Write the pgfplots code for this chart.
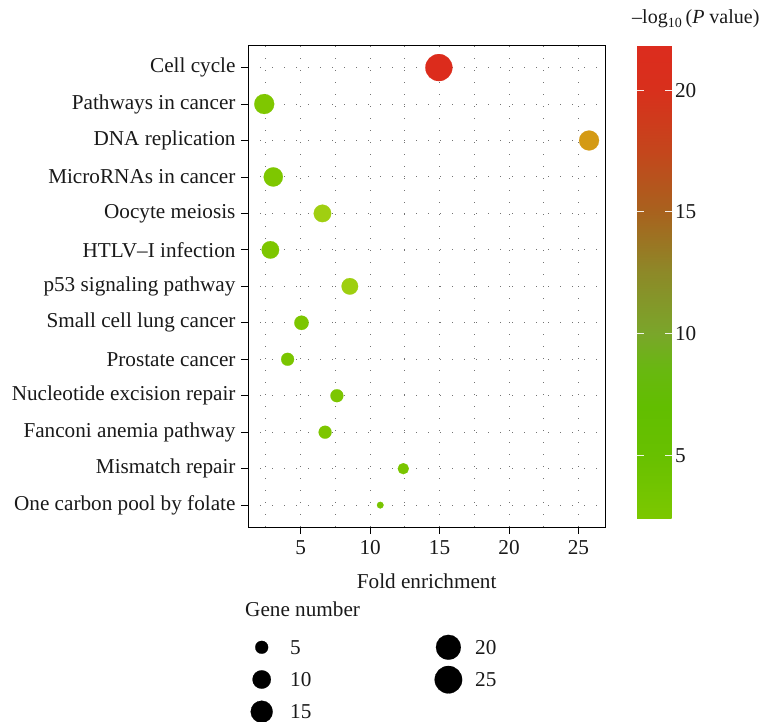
\documentclass[border=0pt]{standalone}
\usepackage{pgfplots}
\pgfplotsset{compat=1.18}
\usepackage{pgfplotstable}
\usepackage{fontspec}
\setmainfont{Liberation Serif}
\newcommand\fs{\fontsize{21.2}{25.4}\selectfont}

% y = category position (13 = top), x = fold enrichment, gene = gene number, p = -log10(P value)
\pgfplotstableread{
y  x      gene  p
13 14.95  24    21.86
12 2.38   12    5.5
11 25.76  12    14.5
10 3.03   11    5.0
9  6.57   9     9.5
8  2.82   9     4.5
7  8.54   8     9.0
6  5.06   6     4.0
5  4.06   5     3.5
4  7.61   5     4.0
3  6.76   5     4.5
2  12.39  4     3.5
1  10.73  3     2.38
}\datatable

\pgfplotstableread{
x     y     gene
261.7 74.7  5
261.7 42.5  10
261.7 10.3  15
}\legA
\pgfplotstableread{
x     y     gene
448.4 74.7  20
448.4 42.3  25
}\legB

\pgfplotsset{
  colormap={bar}{rgb255(238)=(124,200,0) rgb255(500)=(104,192,0) rgb255(700)=(98,190,0)
    rgb255(850)=(104,184,16) rgb255(1000)=(122,166,42) rgb255(1250)=(141,137,40)
    rgb255(1500)=(168,98,30) rgb255(1750)=(196,70,28) rgb255(2000)=(216,48,28) rgb255(2186)=(220,44,30)},
  colormap={pts}{rgb255(238)=(120,196,0) rgb255(600)=(128,200,0) rgb255(900)=(158,207,16)
    rgb255(1000)=(162,208,18) rgb255(1450)=(212,154,20) rgb255(2186)=(220,44,28)},
  sizedots/.style={scatter, only marks, mark=*,
    point meta=\thisrow{gene},
    scatter/use mapped color={draw=black, fill=black},
    visualization depends on={3.3+2.217*sqrt(\thisrow{gene}-3) \as \rad},
    scatter/@pre marker code/.append style={/tikz/mark size=\rad pt},
    line width=0.2pt},
  sizelabels/.style={only marks, mark=*, mark size=0.1pt,
    mark options={draw=none, fill=none},
    point meta=\thisrow{gene},
    nodes near coords,
    nodes near coords style={anchor=west, xshift=#1, inner sep=0pt, font=\fs, text=black!90}},
}

\begin{document}
\begin{tikzpicture}
\useasboundingbox (0,0) rectangle (765pt,722pt);

\begin{axis}[
  at={(248pt,195pt)}, anchor=south west, scale only axis,
  width=357.3pt, height=481.3pt,
  xmin=1.21, xmax=26.93, ymin=0.4, ymax=13.6,
  xtick={5,10,15,20,25}, minor xtick={2.5,7.5,12.5,17.5,22.5},
  ytick={1,...,13},
  yticklabels={One carbon pool by folate, Mismatch repair, Fanconi anemia pathway,
    Nucleotide excision repair, Prostate cancer, Small cell lung cancer,
    p53 signaling pathway, HTLV\textendash I infection, Oocyte meiosis,
    MicroRNAs in cancer, DNA replication, Pathways in cancer, Cell cycle},
  /pgf/number format/assume math mode=true,
  tick label style={font=\fs, text=black!90},
  xticklabel style={yshift=-3pt},
  yticklabel style={xshift=-2pt},
  xlabel={Fold enrichment},
  xlabel style={font=\fs, text=black!90, yshift=-12pt},
  tick align=outside, xtick pos=left, ytick pos=left,
  major tick length=7pt, minor tick length=0pt,
  tick style={black, line width=0.9pt},
  axis line style={black, line width=0.9pt},
  grid=both,
  major grid style={black!55, line width=1pt, dash pattern=on 1.2pt off 10.8pt},
  minor grid style={black!55, line width=1pt, dash pattern=on 1.2pt off 10.8pt},
  colormap name=bar,
  point meta min=2.38, point meta max=21.86,
  colorbar,
  colorbar/width=34.3pt,
  colorbar shift/.style={xshift=31.4pt, yshift=0.7pt},
  colorbar style={
    scale only axis,
    width=34.3pt, height=474pt,
    ytick={5,10,15,20},
    ytick pos=both, yticklabel pos=right,
    tick align=inside, major tick length=6.8pt,
    tick style={white, line width=1pt, opacity=0.9},
    axis line style={draw=none},
    /pgf/number format/assume math mode=true,
    yticklabel style={font=\fs, text=black!90},
  },
]
\addplot[scatter, only marks, mark=*, colormap name=pts,
  point meta=\thisrow{p},
  scatter/use mapped color={draw=mapped color, fill=mapped color},
  visualization depends on={3.3+2.217*sqrt(\thisrow{gene}-3) \as \rad},
  scatter/@pre marker code/.append style={/tikz/mark size=\rad pt},
  line width=0.2pt]
  table[x=x, y=y]{\datatable};
\end{axis}

% legend for gene number
\begin{axis}[
  at={(0pt,0pt)}, anchor=south west, scale only axis,
  width=765pt, height=722pt,
  xmin=0, xmax=765, ymin=0, ymax=722,
  hide axis, clip=false,
  /pgf/number format/assume math mode=true,
]
\addplot[sizedots] table[x=x, y=y]{\legA};
\addplot[sizedots] table[x=x, y=y]{\legB};
\addplot[sizelabels=28.3pt] table[x=x, y=y]{\legA};
\addplot[sizelabels=26.6pt] table[x=x, y=y]{\legB};
\end{axis}

\node[anchor=base west, inner sep=0pt, font=\fs, text=black!90] at (245pt,105.3pt) {Gene number};
\node[anchor=base west, inner sep=0pt, font=\fontsize{20}{24}\selectfont, text=black!90] at (632pt,698pt)
  {\textendash log\textsubscript{10}\,(\textit{P} value)};
\end{tikzpicture}
\end{document}
